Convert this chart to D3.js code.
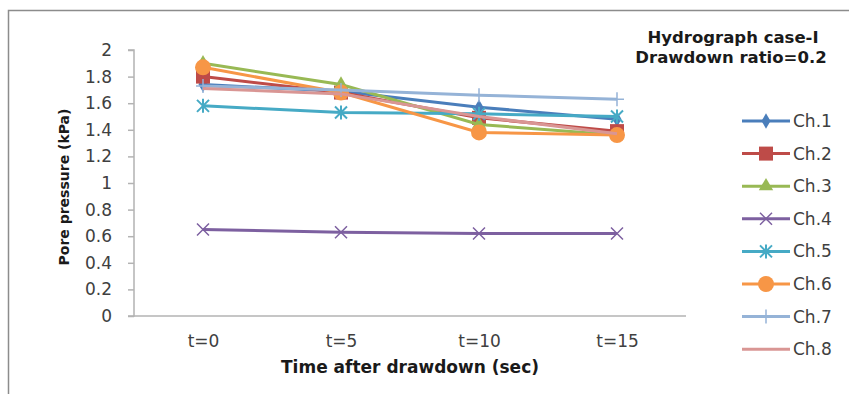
<!DOCTYPE html>
<html>
<head>
<meta charset="utf-8">
<script src="https://cdn.jsdelivr.net/npm/d3@7"></script>
<style>
    body { margin: 0; background: #fff; }
    svg { display: block; font-family: "DejaVu Sans", sans-serif; }
</style>
</head>
<body>
<script>
(function () {
    // data
    var times = ["t=0", "t=5", "t=10", "t=15"];
    var yTicks = [0, 0.2, 0.4, 0.6, 0.8, 1, 1.2, 1.4, 1.6, 1.8, 2];
    var channels = ["Ch.1", "Ch.2", "Ch.3", "Ch.4", "Ch.5", "Ch.6", "Ch.7", "Ch.8"];
    var ch1 = [1.74, 1.69, 1.57, 1.48];
    var ch2 = [1.80, 1.68, 1.49, 1.39];
    var ch3 = [1.90, 1.74, 1.44, 1.36];
    var ch4 = [0.65, 0.63, 0.62, 0.62];
    var ch5 = [1.58, 1.53, 1.52, 1.50];
    var ch6 = [1.87, 1.68, 1.38, 1.36];
    var ch7 = [1.73, 1.70, 1.66, 1.63];
    var ch8 = [1.71, 1.67, 1.50, 1.37];
    var seriesValues = [ch1, ch2, ch3, ch4, ch5, ch6, ch7, ch8];

    var colors = ["#4a7ebb", "#be4b48", "#98b954", "#7d60a0", "#46aac5", "#f79646", "#95b3d7", "#d99694"];
    var markers = ["diamond", "square", "triangle", "x", "star", "circle", "plus", "none"];

    var width = 849, height = 394;
    var plot = {left: 134, right: 686, top: 50, bottom: 316};

    var svg = d3.select("body").append("svg")
        .attr("width", width)
        .attr("height", height);

    // outer frame of the figure
    svg.append("path")
        .attr("d", "M8.5," + height + "V10.5H" + width)
        .attr("fill", "none")
        .attr("stroke", "#8c8c8c")
        .attr("stroke-width", 1.5);

    var x = d3.scalePoint().domain(times).range([plot.left, plot.right]).padding(0.5);
    var y = d3.scaleLinear().domain([0, 2]).range([plot.bottom, plot.top]);

    // y axis
    var yAxis = svg.append("g")
        .attr("transform", "translate(" + plot.left + ",0)")
        .call(d3.axisLeft(y).tickValues(yTicks).tickSize(6).tickPadding(16).tickFormat(d3.format("")));
    yAxis.select(".domain").attr("stroke", "#b3b3b3").attr("stroke-width", 1.5).attr("d", "M-6," + y(2) + "H0V" + y(0) + "H-6");
    yAxis.selectAll(".tick line").attr("stroke", "#b3b3b3").attr("stroke-width", 1.5);
    yAxis.selectAll(".tick text").attr("fill", "#404040").style("font-size", "17px")
        .style("font-family", "'DejaVu Sans', sans-serif");

    // x axis
    var xAxis = svg.append("g")
        .attr("transform", "translate(0," + plot.bottom + ")")
        .call(d3.axisBottom(x).tickSize(0).tickPadding(19));
    xAxis.select(".domain").attr("stroke", "#b3b3b3").attr("stroke-width", 1.5)
        .attr("d", "M" + plot.left + ",0H" + plot.right);
    xAxis.selectAll(".tick text").attr("fill", "#404040").style("font-size", "17px")
        .style("font-family", "'DejaVu Sans', sans-serif");

    // axis titles
    svg.append("text")
        .attr("x", 410).attr("y", 373)
        .attr("text-anchor", "middle")
        .style("font-size", "17px").style("font-weight", "bold").attr("fill", "#1a1a1a")
        .text("Time after drawdown (sec)");
    svg.append("text")
        .attr("transform", "translate(69,187) rotate(-90)")
        .attr("text-anchor", "middle")
        .style("font-size", "14px").style("font-weight", "bold").attr("fill", "#1a1a1a")
        .text("Pore pressure (kPa)");

    // chart title
    svg.append("text")
        .attr("x", 733).attr("y", 43)
        .attr("text-anchor", "middle")
        .style("font-size", "16.5px").style("font-weight", "bold").attr("fill", "#1a1a1a")
        .text("Hydrograph case-I");
    svg.append("text")
        .attr("x", 731).attr("y", 63)
        .attr("text-anchor", "middle")
        .style("font-size", "16.5px").style("font-weight", "bold").attr("fill", "#1a1a1a")
        .text("Drawdown ratio=0.2");

    function drawMarker(g, type, color, cx, cy) {
        var s;
        if (type === "diamond") {
            g.append("path").attr("d", d3.symbol(d3.symbolDiamond, 70)()).attr("fill", color)
                .attr("transform", "translate(" + cx + "," + cy + ")");
        } else if (type === "square") {
            g.append("rect").attr("x", cx - 7).attr("y", cy - 7).attr("width", 14).attr("height", 14).attr("fill", color);
        } else if (type === "triangle") {
            g.append("path").attr("d", d3.symbol(d3.symbolTriangle, 90)()).attr("fill", color)
                .attr("transform", "translate(" + cx + "," + cy + ")");
        } else if (type === "circle") {
            g.append("circle").attr("cx", cx).attr("cy", cy).attr("r", 8).attr("fill", color);
        } else if (type === "x") {
            s = 6;
            g.append("path").attr("d", "M" + (cx - s) + "," + (cy - s) + "L" + (cx + s) + "," + (cy + s) +
                "M" + (cx - s) + "," + (cy + s) + "L" + (cx + s) + "," + (cy - s))
                .attr("stroke", color).attr("stroke-width", 1.5).attr("fill", "none");
        } else if (type === "star") {
            s = 6;
            g.append("path").attr("d", "M" + (cx - s) + "," + (cy - s) + "L" + (cx + s) + "," + (cy + s) +
                "M" + (cx - s) + "," + (cy + s) + "L" + (cx + s) + "," + (cy - s) +
                "M" + cx + "," + (cy - s - 1) + "V" + (cy + s + 1))
                .attr("stroke", color).attr("stroke-width", 2).attr("fill", "none");
        } else if (type === "plus") {
            s = 7;
            g.append("path").attr("d", "M" + (cx - s) + "," + cy + "H" + (cx + s) + "M" + cx + "," + (cy - s) + "V" + (cy + s))
                .attr("stroke", color).attr("stroke-width", 1.5).attr("fill", "none");
        }
    }

    var line = d3.line()
        .x(function (d, i) { return x(times[i]); })
        .y(function (d) { return y(d); });

    for (var k = 0; k < seriesValues.length; k++) {
        var g = svg.append("g");
        g.append("path")
            .datum(seriesValues[k])
            .attr("d", line)
            .attr("fill", "none")
            .attr("stroke", colors[k])
            .attr("stroke-width", 3);
        for (var i = 0; i < times.length; i++) {
            drawMarker(g, markers[k], colors[k], x(times[i]), y(seriesValues[k][i]));
        }
    }

    // legend
    var legend = svg.append("g");
    for (var j = 0; j < channels.length; j++) {
        var ly = 121 + j * 32.6;
        legend.append("line")
            .attr("x1", 742).attr("x2", 790).attr("y1", ly).attr("y2", ly)
            .attr("stroke", colors[j]).attr("stroke-width", 3);
        drawMarker(legend, markers[j], colors[j], 766, ly);
        legend.append("text")
            .attr("x", 793).attr("y", ly + 6)
            .attr("fill", "#404040")
            .style("font-size", "17px")
            .text(channels[j]);
    }
})();
</script>
</body>
</html>
